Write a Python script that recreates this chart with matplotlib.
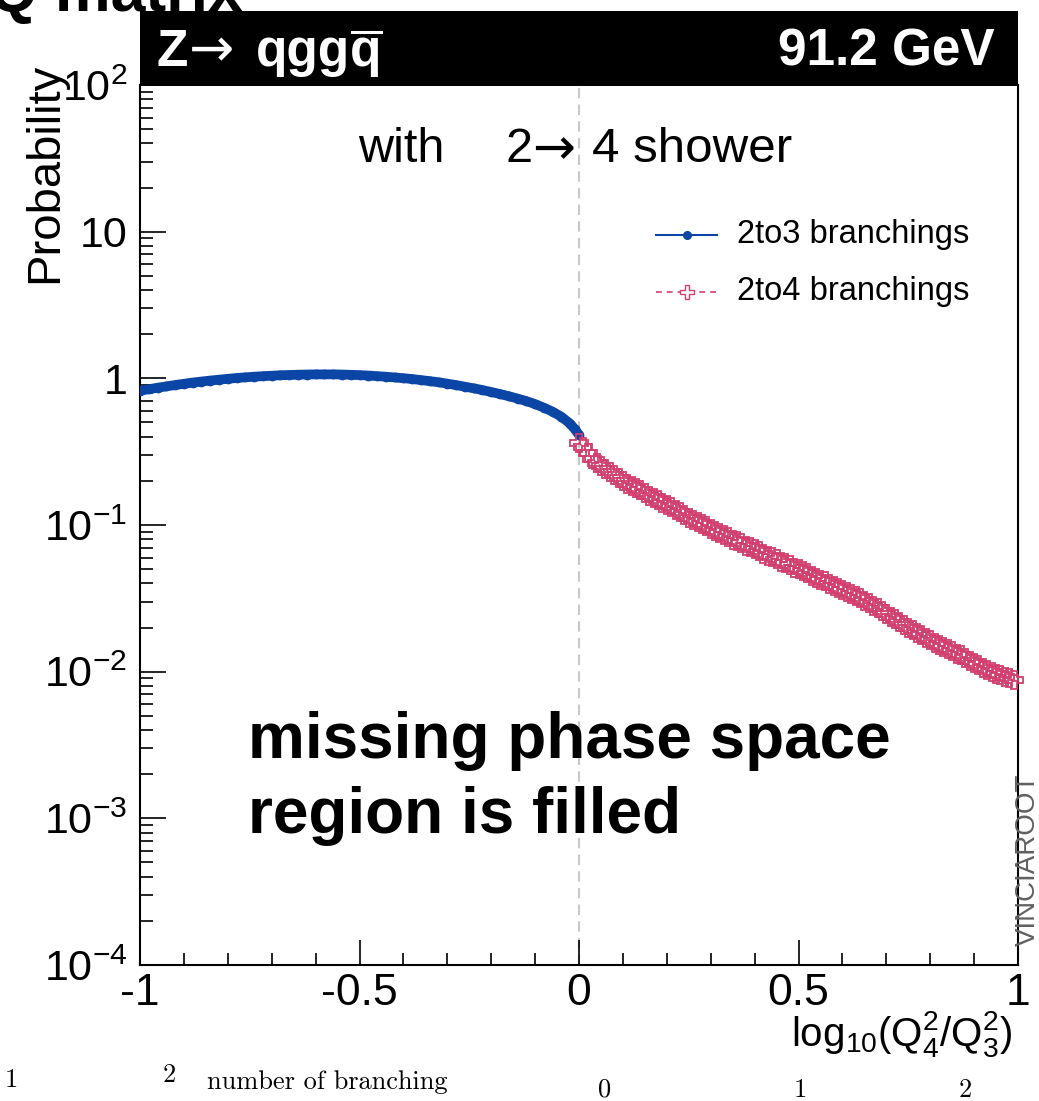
import matplotlib
matplotlib.use("Agg")
import matplotlib.pyplot as plt
from matplotlib.patches import Rectangle
from matplotlib.lines import Line2D
from matplotlib.ticker import FixedLocator, MultipleLocator, LogLocator, NullFormatter

plt.rcParams['font.family'] = ['Liberation Sans', 'DejaVu Sans']
plt.rcParams['mathtext.fontset'] = 'custom'
plt.rcParams['mathtext.rm'] = 'Liberation Sans'
plt.rcParams['mathtext.it'] = 'Liberation Sans:italic'
plt.rcParams['mathtext.bf'] = 'Liberation Sans:bold'

# ---------------- data ----------------
x_2to3 = [-1.00, -0.98, -0.96, -0.94, -0.92, -0.90, -0.88, -0.86, -0.84, -0.82,
          -0.80, -0.78, -0.76, -0.74, -0.72, -0.70, -0.68, -0.66, -0.64, -0.62,
          -0.60, -0.58, -0.56, -0.54, -0.52, -0.50, -0.48, -0.46, -0.44, -0.42,
          -0.40, -0.38, -0.36, -0.34, -0.32, -0.30, -0.28, -0.26, -0.24, -0.22,
          -0.20, -0.18, -0.16, -0.14, -0.12, -0.10, -0.08, -0.06, -0.04, -0.02,
          -0.01, 0.00]
p_2to3 = [0.822, 0.843, 0.863, 0.881, 0.900, 0.918, 0.936, 0.951, 0.966, 0.979,
          0.993, 1.005, 1.016, 1.026, 1.035, 1.042, 1.050, 1.054, 1.059, 1.062,
          1.064, 1.064, 1.064, 1.062, 1.057, 1.052, 1.045, 1.035, 1.026, 1.014,
          1.002, 0.989, 0.973, 0.957, 0.940, 0.920, 0.900, 0.877, 0.855, 0.832,
          0.807, 0.782, 0.755, 0.728, 0.700, 0.667, 0.631, 0.592, 0.547, 0.490,
          0.452, 0.412]

x_2to4 = [0.00, 0.01, 0.02, 0.03, 0.04, 0.05, 0.06, 0.07, 0.08, 0.09,
          0.10, 0.11, 0.12, 0.13, 0.14, 0.15, 0.16, 0.17, 0.18, 0.19,
          0.20, 0.21, 0.22, 0.23, 0.24, 0.25, 0.26, 0.27, 0.28, 0.29,
          0.30, 0.31, 0.32, 0.33, 0.34, 0.35, 0.36, 0.37, 0.38, 0.39,
          0.40, 0.41, 0.42, 0.43, 0.44, 0.45, 0.46, 0.47, 0.48, 0.49,
          0.50, 0.51, 0.52, 0.53, 0.54, 0.55, 0.56, 0.57, 0.58, 0.59,
          0.60, 0.61, 0.62, 0.63, 0.64, 0.65, 0.66, 0.67, 0.68, 0.69,
          0.70, 0.71, 0.72, 0.73, 0.74, 0.75, 0.76, 0.77, 0.78, 0.79,
          0.80, 0.81, 0.82, 0.83, 0.84, 0.85, 0.86, 0.87, 0.88, 0.89,
          0.90, 0.91, 0.92, 0.93, 0.94, 0.95, 0.96, 0.97, 0.98, 0.99]
p_2to4 = [0.363, 0.339, 0.309, 0.282, 0.266, 0.251, 0.240, 0.229, 0.219, 0.209,
          0.200, 0.191, 0.184, 0.178, 0.172, 0.166, 0.158, 0.153, 0.148, 0.141,
          0.136, 0.132, 0.126, 0.122, 0.117, 0.112, 0.108, 0.105, 0.101, 0.0977,
          0.0944, 0.0912, 0.0881, 0.0851, 0.0822, 0.0794, 0.0776, 0.0750, 0.0724, 0.0708,
          0.0684, 0.0661, 0.0638, 0.0617, 0.0603, 0.0582, 0.0562, 0.0550, 0.0531, 0.0513,
          0.0501, 0.0484, 0.0468, 0.0452, 0.0437, 0.0422, 0.0412, 0.0398, 0.0385, 0.0372,
          0.0359, 0.0347, 0.0339, 0.0327, 0.0316, 0.0305, 0.0295, 0.0282, 0.0272, 0.0260,
          0.0248, 0.0237, 0.0229, 0.0219, 0.0209, 0.0200, 0.0191, 0.0184, 0.0178, 0.0170,
          0.0164, 0.0158, 0.0153, 0.0148, 0.0143, 0.0138, 0.0133, 0.0129, 0.0123, 0.0119,
          0.0115, 0.0111, 0.0106, 0.0102, 0.0100, 0.00966, 0.00944, 0.00923, 0.00902, 0.00881]

label_2to3 = "2to3 branchings"
label_2to4 = "2to4 branchings"
xtick_vals = [-1, -0.5, 0, 0.5, 1]
xtick_labels = ["-1", "-0.5", "0", "0.5", "1"]
ytick_vals = [1e-4, 1e-3, 1e-2, 1e-1, 1, 10, 100]
ytick_labels = [r"$10^{-4}$", r"$10^{-3}$", r"$10^{-2}$", r"$10^{-1}$", "1", "10", r"$10^{2}$"]

BLUE = "#0b45a6"
PINK = "#d23f6e"

W, H = 1039, 1101
fig = plt.figure(figsize=(W / 100, H / 100), dpi=100)
fig.patch.set_facecolor("white")

def fx(px):
    return px / W

def fy(py):
    return 1 - py / H

ax = fig.add_axes([fx(140), fy(965), 878 / W, 880 / H])
ax.set_xlim(-1, 1)
ax.set_yscale("log")
ax.set_ylim(1e-4, 1e2)

ax.axvline(0, color="#c8c8c8", lw=1.5, dashes=(5, 3), zorder=1)

ax.plot(x_2to3, p_2to3, color=BLUE, lw=7, solid_capstyle="round",
        marker="o", ms=6, mfc=BLUE, mec=BLUE, zorder=3)
ax.plot(x_2to4, p_2to4, color=PINK, lw=1.0, ls="--",
        marker="P", ms=13.5, mfc="none", mec=PINK, mew=1.3, zorder=4, clip_on=False)

ax.spines["top"].set_visible(False)
for s in ["left", "bottom", "right"]:
    ax.spines[s].set_linewidth(1.5)
    ax.spines[s].set_color("black")

ax.xaxis.set_major_locator(FixedLocator(xtick_vals))
ax.set_xticklabels(xtick_labels)
ax.xaxis.set_minor_locator(MultipleLocator(0.1))
ax.yaxis.set_major_locator(FixedLocator(ytick_vals))
ax.set_yticklabels(ytick_labels)
ax.yaxis.set_minor_locator(LogLocator(base=10, subs=[2, 3, 4, 5, 6, 7, 8, 9], numticks=20))
ax.yaxis.set_minor_formatter(NullFormatter())

ax.tick_params(axis="both", which="both", direction="in", top=False, right=False,
               width=1.2, color="black")
ax.tick_params(axis="y", which="major", length=18.5, pad=9, labelsize=31)
ax.tick_params(axis="y", which="minor", length=9.3)
ax.tick_params(axis="x", which="major", length=18, pad=6, labelsize=32)
ax.tick_params(axis="x", which="minor", length=8.6)

# axis titles
fig.text(fx(45), fy(63), "Probability", rotation=90, ha="center", va="top", fontsize=34)
fig.text(fx(1012), fy(1034), r"$\mathrm{log_{10}(Q_{4}^{2}/Q_{3}^{2})}$",
         ha="right", va="center", fontsize=29)

# banner
fig.add_artist(Rectangle((fx(140), fy(86)), 878 / W, 75 / H, transform=fig.transFigure,
                         facecolor="black", edgecolor="none", zorder=5))
fig.text(fx(156), fy(66), "Z", color="white", fontsize=37, weight="bold",
         va="baseline", zorder=6)
fig.text(fx(189), fy(66), "\u2192", color="white", fontsize=39, family="DejaVu Sans",
         va="baseline", zorder=6)
t1 = fig.text(fx(256), fy(66), "qgg", color="white", fontsize=37,
              weight="bold", va="baseline", zorder=6)
fig.canvas.draw()
r = fig.canvas.get_renderer()
bb = t1.get_window_extent(renderer=r)
t2 = fig.text(bb.x1 / W, fy(66), "q", color="white", fontsize=37,
              weight="bold", va="baseline", zorder=6)
bb2 = t2.get_window_extent(renderer=r)
fig.add_artist(Line2D([bb2.x0 / W + 2 / W, bb2.x1 / W - 1 / W], [fy(32), fy(32)],
                      transform=fig.transFigure, color="white", lw=2.2, zorder=6))
fig.text(fx(995), fy(66), "91.2 GeV", color="white", fontsize=37, weight="bold",
         ha="right", va="baseline", zorder=6)

# annotations
fig.text(fx(358), fy(150), "with", fontsize=35, va="center")
fig.text(fx(505), fy(150), "2", fontsize=35, va="center")
fig.text(fx(532), fy(150), "\u2192", fontsize=37, family="DejaVu Sans", va="center")
fig.text(fx(592), fy(150), "4 shower", fontsize=35.5, va="center")
fig.text(fx(248), fy(758), "missing phase space", fontsize=46, weight="bold", va="baseline")
fig.text(fx(248), fy(833), "region is filled", fontsize=46, weight="bold", va="baseline")
fig.text(fx(1028), fy(860), "VINCIAROOT", rotation=90, ha="center", va="center",
         fontsize=20, color="#606060")

# legend (drawn by hand to match placement)
fig.add_artist(Line2D([fx(656), fx(717)], [fy(235), fy(235)], transform=fig.transFigure,
                      color=BLUE, lw=1.5))
fig.add_artist(Line2D([fx(687)], [fy(235)], transform=fig.transFigure, marker="o",
                      ms=5.5, color=BLUE, ls="none"))
fig.add_artist(Line2D([fx(656), fx(717)], [fy(292), fy(292)], transform=fig.transFigure,
                      color=PINK, lw=1.2, dashes=(3.5, 3)))
fig.add_artist(Line2D([fx(687)], [fy(292)], transform=fig.transFigure, marker="P",
                      ms=10, mfc="white", mec=PINK, mew=1.0, ls="none"))
fig.text(fx(737), fy(235), label_2to3, fontsize=23.5, va="center")
fig.text(fx(737), fy(292), label_2to4, fontsize=23.5, va="center")

# remnants of the slide behind the plot
fig.text(fx(-11), fy(11), "Q matrix", fontsize=45, weight="bold", va="baseline")
fig.text(fx(5), fy(1080), "1", fontsize=19, family="cmr10", va="center")
fig.text(fx(163), fy(1075), "2", fontsize=19, family="cmr10", va="center")
fig.text(fx(207), fy(1082), "number of branching", fontsize=19, family="cmr10", va="center")
fig.text(fx(605), fy(1090), "0", fontsize=19, family="cmr10", ha="center", va="center")
fig.text(fx(800), fy(1090), "1", fontsize=19, family="cmr10", ha="center", va="center")
fig.text(fx(965), fy(1090), "2", fontsize=19, family="cmr10", ha="center", va="center")

fig.savefig("out.png", dpi=100)
